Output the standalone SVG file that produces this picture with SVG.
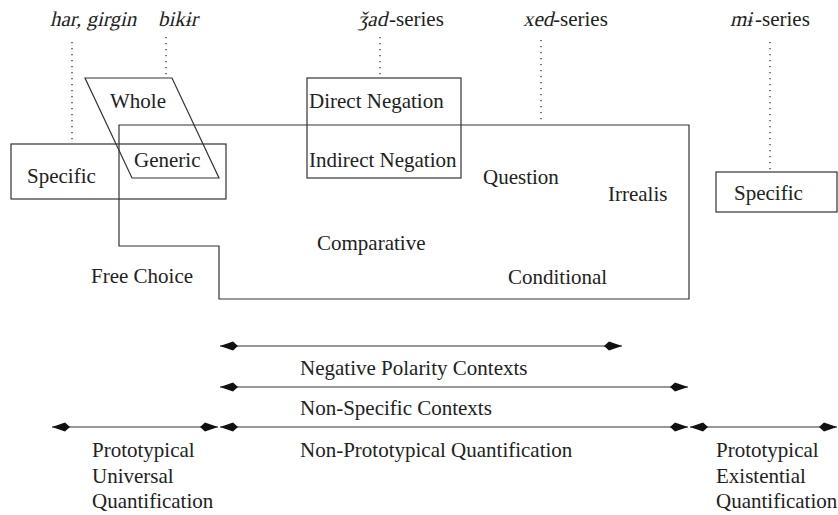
<svg xmlns="http://www.w3.org/2000/svg" width="838" height="515" viewBox="0 0 838 515">
<style>
text{font-family:"Liberation Serif","Times New Roman",serif;font-size:21px;fill:#222}
.box{fill:none;stroke:#333;stroke-width:1.2}
.dot{fill:none;stroke:#333;stroke-width:1.3;stroke-dasharray:1.3 4.7}
.arr{fill:none;stroke:#333;stroke-width:1.2;marker-start:url(#head);marker-end:url(#head)}
</style>
<defs>
<marker id="head" markerUnits="userSpaceOnUse" markerWidth="20" markerHeight="12" viewBox="-19 -6 20 12" refX="0" refY="0" orient="auto-start-reverse">
<path d="M0,0 L-13,-4.5 L-18,0 L-13,4.5 Z" fill="#111"/>
</marker>
</defs>
<rect width="838" height="515" fill="#fff"/>
<g id="labels-top">
<text transform="translate(50,26) skewX(-13)">har, girgin</text>
<text transform="translate(158,26) skewX(-13)">bikɨr</text>
<text transform="translate(358,26) skewX(-13)">ǯad</text>
<text x="389" y="26">-series</text>
<text transform="translate(523,26) skewX(-13)">xed</text>
<text x="553" y="26">-series</text>
<text transform="translate(730,26) skewX(-13)">mɨ</text>
<text x="755" y="26">-series</text>
</g>
<g id="connectors">
<line class="dot" x1="72" y1="42" x2="72" y2="143"/>
<line class="dot" x1="166" y1="37" x2="166" y2="77"/>
<line class="dot" x1="380" y1="37" x2="380" y2="77"/>
<line class="dot" x1="541" y1="40" x2="541" y2="124"/>
<line class="dot" x1="770" y1="42" x2="770" y2="171"/>
<line class="arr" x1="220" y1="346" x2="622" y2="346"/>
<line class="arr" x1="220" y1="387" x2="688" y2="387"/>
<line class="arr" x1="52" y1="427" x2="218" y2="427"/>
<line class="arr" x1="220" y1="427" x2="688" y2="427"/>
<line class="arr" x1="690" y1="427" x2="837" y2="427"/>
</g>
<g id="nonspecific-region">
<path class="box" d="M119,125 H689 V299 H219 V246 H119 Z"/>
<text x="317" y="250">Comparative</text>
<text x="91" y="283">Free Choice</text>
<text x="508" y="284">Conditional</text>
<text x="483" y="184">Question</text>
<text x="608" y="201">Irrealis</text>
</g>
<g id="whole">
<path class="box" d="M85,78 H172 L219,178 H132 Z"/>
<text x="110" y="108">Whole</text>
</g>
<g id="generic">
<text x="134" y="167">Generic</text>
</g>
<g id="specific-left">
<rect class="box" x="11" y="144" width="215" height="55"/>
<text x="27" y="183">Specific</text>
</g>
<g id="negation">
<rect class="box" x="307" y="78" width="154" height="100"/>
<text x="309" y="108">Direct Negation</text>
<text x="309" y="167">Indirect Negation</text>
</g>
<g id="specific-right">
<rect class="box" x="716" y="172" width="121" height="40"/>
<text x="734" y="200">Specific</text>
</g>
<g id="labels-bottom">
<text x="300" y="375">Negative Polarity Contexts</text>
<text x="300" y="415">Non-Specific Contexts</text>
<text x="300" y="457">Non-Prototypical Quantification</text>
<text x="92" y="457">Prototypical</text>
<text x="92" y="483">Universal</text>
<text x="92" y="508">Quantification</text>
<text x="716" y="457">Prototypical</text>
<text x="716" y="483">Existential</text>
<text x="716" y="508">Quantification</text>
</g>
</svg>
